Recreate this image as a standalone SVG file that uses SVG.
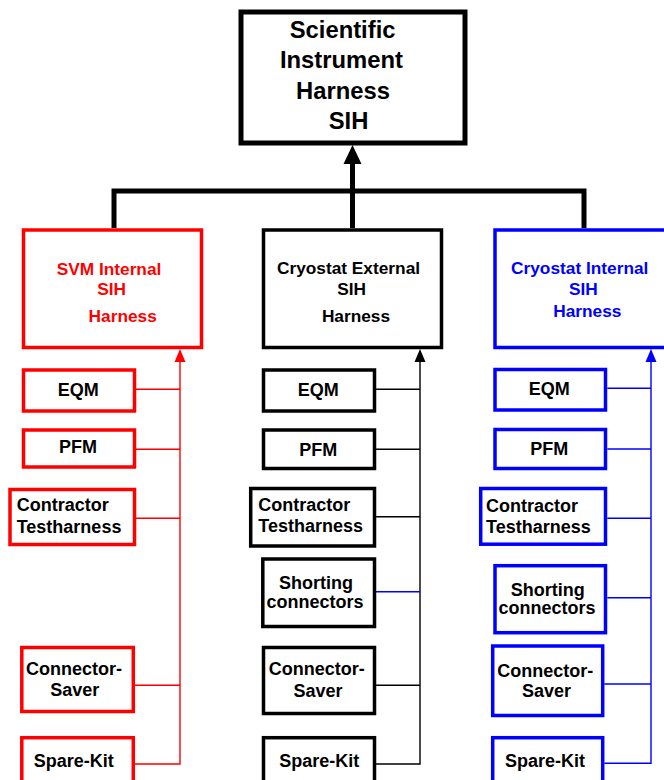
<svg xmlns="http://www.w3.org/2000/svg" width="664" height="780" viewBox="0 0 664 780">
  <style>
    .lbl { font-family: "Liberation Sans", Arial, sans-serif; font-weight: bold; }
    .top { font-size: 23.8px; fill: #000; }
    .mid { font-size: 17.3px; }
    .sub { font-size: 18px; fill: #000; }
    .box { fill: #fff; stroke-width: 3.5; }
    .red { stroke: #ff0000; }
    .blk { stroke: #000; }
    .blu { stroke: #0000ff; }
    .wire { fill: none; stroke-width: 1.4; }
  </style>

  <rect width="664" height="780" fill="#fff"/>

  <!-- connectors -->
  <g id="connectors">
    <!-- main bus to top node -->
    <path d="M114,228 V191 H584 V228" fill="none" stroke="#000" stroke-width="5"/>
    <line x1="352.5" y1="228" x2="352.5" y2="160" stroke="#000" stroke-width="5"/>
    <path d="M352.5,145 L343.5,164 L361.5,164 Z" fill="#000"/>

    <!-- SVM internal branch -->
    <g class="wire red">
      <path d="M180,360 V764 H135"/>
      <line x1="135" y1="389.3" x2="180" y2="389.3"/>
      <line x1="135" y1="449.3" x2="180" y2="449.3"/>
      <line x1="135" y1="518.3" x2="180" y2="518.3"/>
      <line x1="135" y1="685.3" x2="180" y2="685.3"/>
    </g>
    <path d="M180,349 L174.5,362 L185.5,362 Z" fill="#ff0000"/>

    <!-- Cryostat external branch -->
    <g class="wire blk">
      <path d="M420,360 V764 H376"/>
      <line x1="376" y1="389.3" x2="420" y2="389.3"/>
      <line x1="376" y1="449.3" x2="420" y2="449.3"/>
      <line x1="376" y1="516.7" x2="420" y2="516.7"/>
      <line x1="376" y1="685.3" x2="420" y2="685.3"/>
    </g>
    <line x1="376" y1="591.7" x2="420" y2="591.7" class="wire blu"/>
    <path d="M420,349 L414.5,362 L425.5,362 Z" fill="#000"/>

    <!-- Cryostat internal branch -->
    <g class="wire blu">
      <path d="M651,360 V763.3 H604.3"/>
      <line x1="607.3" y1="388.3" x2="651" y2="388.3"/>
      <line x1="607.3" y1="449" x2="651" y2="449"/>
      <line x1="607.3" y1="518.3" x2="651" y2="518.3"/>
      <line x1="607.3" y1="597.7" x2="651" y2="597.7"/>
      <line x1="604.3" y1="684" x2="651" y2="684"/>
    </g>
    <path d="M651,349 L645.5,362 L656.5,362 Z" fill="#0000ff"/>
  </g>

  <!-- top node -->
  <g id="sih">
    <rect x="241" y="12" width="224" height="131" fill="#fff" stroke="#000" stroke-width="5"/>
    <text class="lbl top" text-anchor="middle" x="342.6" y="38">Scientific</text>
    <text class="lbl top" text-anchor="middle" x="341.4" y="68">Instrument</text>
    <text class="lbl top" text-anchor="middle" x="343" y="99">Harness</text>
    <text class="lbl top" text-anchor="middle" x="348.6" y="129">SIH</text>
  </g>

  <!-- SVM internal column -->
  <g id="svm-internal">
    <rect class="box red" x="23.5" y="230" width="178" height="117.5"/>
    <g class="lbl mid" fill="#ff0000" text-anchor="middle">
      <text x="109" y="275">SVM Internal</text>
      <text x="111.7" y="295">SIH</text>
      <text x="122.7" y="321.7">Harness</text>
    </g>
  </g>
  <g id="svm-eqm">
    <rect class="box red" x="23.5" y="370" width="111" height="41"/>
    <text class="lbl sub" text-anchor="middle" x="78.3" y="396">EQM</text>
  </g>
  <g id="svm-pfm">
    <rect class="box red" x="23.5" y="430" width="111" height="37"/>
    <text class="lbl sub" text-anchor="middle" x="78" y="453.3">PFM</text>
  </g>
  <g id="svm-contractor">
    <rect class="box red" x="10" y="489.5" width="124.5" height="55"/>
    <text class="lbl sub" x="16.7" y="511">Contractor</text>
    <text class="lbl sub" x="16.7" y="533.3">Testharness</text>
  </g>
  <g id="svm-saver">
    <rect class="box red" x="21.8" y="647.5" width="111.5" height="64"/>
    <text class="lbl sub" text-anchor="middle" x="74" y="675">Connector-</text>
    <text class="lbl sub" text-anchor="middle" x="74.7" y="696">Saver</text>
  </g>
  <g id="svm-spare">
    <rect class="box red" x="21.8" y="737.7" width="111.5" height="60"/>
    <text class="lbl sub" text-anchor="middle" x="73.7" y="766.7">Spare-Kit</text>
  </g>

  <!-- Cryostat external column -->
  <g id="cryo-external">
    <rect class="box blk" x="263.5" y="230" width="178" height="117.5"/>
    <g class="lbl mid" fill="#000" text-anchor="middle">
      <text x="348.5" y="274.3">Cryostat External</text>
      <text x="351.7" y="295">SIH</text>
      <text x="356" y="321.7">Harness</text>
    </g>
  </g>
  <g id="ext-eqm">
    <rect class="box blk" x="263.5" y="370" width="111" height="41"/>
    <text class="lbl sub" text-anchor="middle" x="318.3" y="396">EQM</text>
  </g>
  <g id="ext-pfm">
    <rect class="box blk" x="263.5" y="430" width="111" height="38.5"/>
    <text class="lbl sub" text-anchor="middle" x="318.3" y="456">PFM</text>
  </g>
  <g id="ext-contractor">
    <rect class="box blk" x="250.7" y="488.5" width="123.8" height="57.5"/>
    <text class="lbl sub" x="258.3" y="511">Contractor</text>
    <text class="lbl sub" x="258.3" y="532.3">Testharness</text>
  </g>
  <g id="ext-shorting">
    <rect class="box blk" x="262.8" y="559" width="111.7" height="67.5"/>
    <text class="lbl sub" text-anchor="middle" x="316" y="589.3">Shorting</text>
    <text class="lbl sub" text-anchor="middle" x="315" y="608.3">connectors</text>
  </g>
  <g id="ext-saver">
    <rect class="box blk" x="263.5" y="647.5" width="111" height="66"/>
    <text class="lbl sub" text-anchor="middle" x="316.7" y="675">Connector-</text>
    <text class="lbl sub" text-anchor="middle" x="318" y="696.7">Saver</text>
  </g>
  <g id="ext-spare">
    <rect class="box blk" x="263.5" y="737.7" width="111" height="60"/>
    <text class="lbl sub" text-anchor="middle" x="319.3" y="766.7">Spare-Kit</text>
  </g>

  <!-- Cryostat internal column -->
  <g id="cryo-internal">
    <rect class="box blu" x="495" y="230" width="190" height="117.5"/>
    <g class="lbl mid" fill="#0000ff" text-anchor="middle">
      <text x="579.7" y="274.3">Cryostat Internal</text>
      <text x="583.3" y="295">SIH</text>
      <text x="587.3" y="317.3">Harness</text>
    </g>
  </g>
  <g id="int-eqm">
    <rect class="box blu" x="495" y="369.5" width="110.5" height="40.5"/>
    <text class="lbl sub" text-anchor="middle" x="549.3" y="395">EQM</text>
  </g>
  <g id="int-pfm">
    <rect class="box blu" x="495" y="429.5" width="110.5" height="39"/>
    <text class="lbl sub" text-anchor="middle" x="549.2" y="455">PFM</text>
  </g>
  <g id="int-contractor">
    <rect class="box blu" x="480.7" y="488.5" width="124.8" height="55.7"/>
    <text class="lbl sub" x="486" y="511.7">Contractor</text>
    <text class="lbl sub" x="486" y="533.3">Testharness</text>
  </g>
  <g id="int-shorting">
    <rect class="box blu" x="495" y="565.7" width="110.5" height="67"/>
    <text class="lbl sub" text-anchor="middle" x="547.7" y="595.7">Shorting</text>
    <text class="lbl sub" text-anchor="middle" x="547" y="614.3">connectors</text>
  </g>
  <g id="int-saver">
    <rect class="box blu" x="492.7" y="646" width="110" height="69.5"/>
    <text class="lbl sub" text-anchor="middle" x="545.3" y="676.7">Connector-</text>
    <text class="lbl sub" text-anchor="middle" x="546.5" y="696.7">Saver</text>
  </g>
  <g id="int-spare">
    <rect class="box blu" x="492.7" y="737.7" width="110" height="60"/>
    <text class="lbl sub" text-anchor="middle" x="545" y="766.7">Spare-Kit</text>
  </g>
</svg>
